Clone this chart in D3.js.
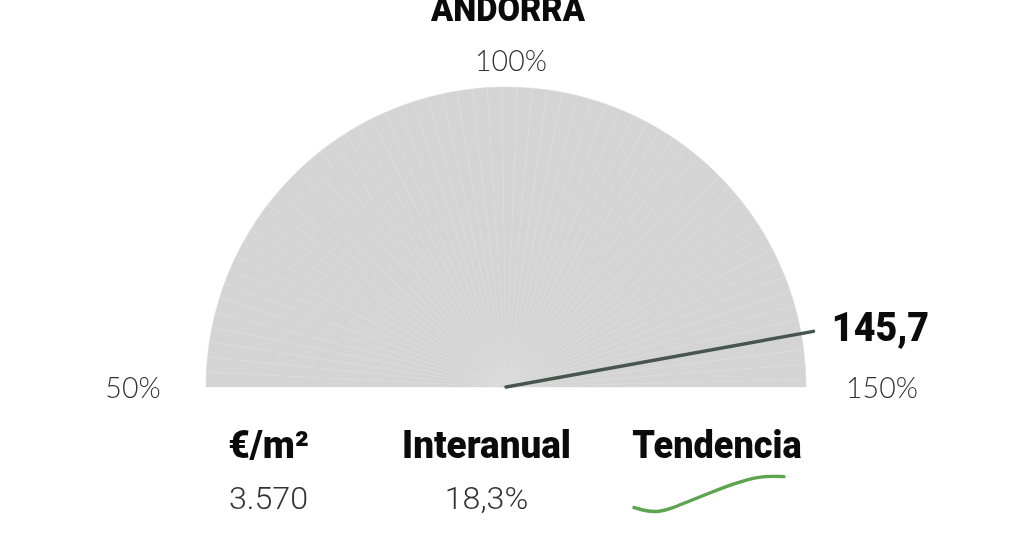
<!DOCTYPE html>
<html><head><meta charset="utf-8">
<script src="https://cdn.jsdelivr.net/npm/d3@7"></script>
<style>html,body{margin:0;padding:0;background:#fff}svg{display:block;filter:blur(0.6px)}</style>
</head><body><svg id="c" width="1024" height="536"></svg>
<script>
const title = ["ANDORRA"];
const gaugeTicks = [50, 100, 150];
const gaugeTickLabels = ["50%", "100%", "150%"];
const valueLabel = ["145,7"];
const needleReading = [144.3];
const columnHeads = ["€/m²", "Interanual", "Tendencia"];
const columnValues = ["3.570", "18,3%"];
const trendValues = [5.2, 1.6, 1.0, 4.4, 9.2, 14.0, 18.7, 23.3, 27.6, 31.4, 34.0, 34.8, 34.4];

const svg = d3.select("#c");
const cx = 506, cy = 387, R = 300;
const angle = d3.scaleLinear().domain([50, 150]).range([-Math.PI/2, Math.PI/2]);
const g = svg.append("g").attr("transform", `translate(${cx},${cy})`);

// gauge fan
const steps = d3.range(50, 150, 1.6);
const arc = d3.arc().innerRadius(0).outerRadius(R);
g.selectAll("path.fan").data(steps).join("path").attr("class","fan")
  .attr("d", d => arc({startAngle: angle(d), endAngle: angle(Math.min(d + 1.6, 150))}))
  .attr("fill", "#d4d4d4").attr("stroke", "#dadada").attr("stroke-width", 0.5);

// needle
const tipR = 312.5, a = angle(needleReading[0]);
g.append("line").attr("x1", 0).attr("y1", 0)
  .attr("x2", tipR*Math.sin(a)).attr("y2", -tipR*Math.cos(a))
  .attr("stroke", "#47564c").attr("stroke-width", 3.4).attr("stroke-linecap","round");

// gauge tick labels
const labelFont = "Lato, sans-serif";
const tickPos = [[133,398],[511,71],[882,398]];
svg.selectAll("text.tick").data(gaugeTicks).join("text").attr("class","tick")
  .attr("x",(d,i)=>tickPos[i][0]).attr("y",(d,i)=>tickPos[i][1])
  .attr("text-anchor","middle").attr("font-family",labelFont).attr("font-weight",300)
  .attr("font-size",28.5).attr("fill","#333")
  .text((d,i)=>gaugeTickLabels[i]);

function cond(sel, x, y, size, sx){
  return sel.attr("transform",`translate(${x},${y}) scale(${sx},1)`)
    .attr("text-anchor","middle").attr("font-family","Roboto, sans-serif").attr("font-weight",900)
    .attr("font-size",size).attr("fill","#0b0b0b");
}
cond(svg.append("text"), 508, 21, 35, 0.935).text(title[0]);
cond(svg.append("text"), 880.5, 341, 40, 0.94).text(valueLabel[0]);

const colX = [268.5, 486.5, 717];
const headScale = [0.98, 0.97, 0.95];
columnHeads.forEach((h,i)=>cond(svg.append("text"), colX[i], 458, 38, headScale[i]).text(h));
columnValues.forEach((v,i)=>svg.append("text")
  .attr("transform",`translate(${colX[i]},509) scale(1.04,1)`).attr("text-anchor","middle")
  .attr("font-family","Roboto, sans-serif").attr("font-weight",300).attr("font-size",31).attr("fill","#333").text(v));

// trend
const tx = d3.scaleLinear().domain([0, trendValues.length-1]).range([634, 784]);
const ty = d3.scaleLinear().domain([0, 35]).range([513, 476]);
svg.append("path").attr("d", d3.line().x((d,i)=>tx(i)).y(d=>ty(d)).curve(d3.curveBasis)(trendValues))
  .attr("fill","none").attr("stroke","#5da44f").attr("stroke-width",3.4).attr("stroke-linecap","round");
</script></body></html>
